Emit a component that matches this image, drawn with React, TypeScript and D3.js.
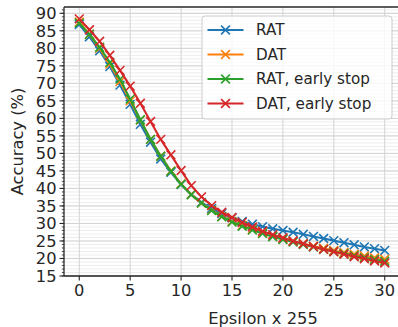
import React from "react";
import * as d3 from "d3";

const epsilons = d3.range(0, 31);
const ratValues = [86.8, 83.3, 79.3, 74.8, 69.5, 64.0, 58.3, 53.2, 48.4, 44.6, 41.1, 38.3, 36.0, 34.3, 32.8, 31.6, 30.6, 29.8, 29.1, 28.5, 28.0, 27.5, 26.9, 26.3, 25.7, 25.1, 24.5, 23.9, 23.3, 22.8, 22.3];
const datValues = [87.5, 84.0, 80.0, 75.5, 70.5, 65.0, 59.5, 54.0, 49.2, 45.0, 41.3, 38.3, 35.8, 33.8, 32.0, 30.6, 29.4, 28.3, 27.3, 26.4, 25.6, 24.9, 24.2, 23.5, 22.9, 22.3, 21.7, 21.2, 20.7, 20.2, 19.8];
const ratEarlyValues = [87.2, 84.0, 80.3, 76.0, 71.2, 65.5, 59.6, 54.0, 49.2, 44.9, 41.2, 38.2, 35.8, 33.7, 31.9, 30.4, 29.2, 28.1, 27.1, 26.2, 25.4, 24.7, 24.0, 23.3, 22.6, 22.0, 21.4, 20.8, 20.2, 19.7, 19.2];
const datEarlyValues = [88.4, 85.3, 82.0, 78.0, 73.7, 69.2, 64.3, 59.1, 54.0, 49.6, 45.1, 40.8, 37.6, 35.1, 33.2, 31.7, 30.3, 29.0, 27.8, 26.8, 25.9, 25.0, 24.2, 23.4, 22.6, 21.9, 21.2, 20.5, 19.9, 19.3, 18.7];

const seriesNames = ["RAT", "DAT", "RAT, early stop", "DAT, early stop"];
const seriesData = [ratValues, datValues, ratEarlyValues, datEarlyValues];
const seriesColors = ["#1f77b4", "#ff7f0e", "#2ca02c", "#d62728"];

const xTicks = [0, 5, 10, 15, 20, 25, 30];
const yTicks = d3.range(15, 91, 5);
const yMinor = d3.range(15, 92, 1);

const W = 398;
const H = 327;
const FONT = "DejaVu Sans, sans-serif";
const FS = 16.3;

export default function App() {
  const left = 64, right = 400, top = 7, bottom = 276;
  const x = d3.scaleLinear().domain([-1.5, 31.5]).range([left, right]);
  const y = d3.scaleLinear().domain([15, 91.8]).range([bottom, top]);
  const line = d3
    .line<number>()
    .x((_, i) => x(epsilons[i]))
    .y((d) => y(d));
  const m = 4.4;
  const marker = (cx: number, cy: number, color: string, key: string) => (
    <path
      key={key}
      d={`M${cx - m},${cy - m}L${cx + m},${cy + m}M${cx - m},${cy + m}L${cx + m},${cy - m}`}
      stroke={color}
      strokeWidth={1.6}
      fill="none"
    />
  );

  const legX = 202, legY = 16, legW = 190, legH = 103;
  const rowY = [30, 54.5, 79, 103.5];

  return (
    <svg
      width={W}
      height={H}
      style={{ position: "absolute", left: 0, top: 0, background: "#fff" }}
      fontFamily={FONT}
    >
      <rect x={0} y={0} width={W} height={H} fill="#fff" />
      {yMinor.map((v) => (
        <line key={"mg" + v} x1={left} x2={right} y1={y(v)} y2={y(v)} stroke="#e8e8e8" strokeWidth={0.8} />
      ))}
      {yTicks.map((v) => (
        <line key={"yg" + v} x1={left} x2={right} y1={y(v)} y2={y(v)} stroke="#d3d3d3" strokeWidth={1} />
      ))}
      {xTicks.map((v) => (
        <line key={"xg" + v} x1={x(v)} x2={x(v)} y1={top} y2={bottom} stroke="#d3d3d3" strokeWidth={1} />
      ))}
      {seriesData.map((s, k) => (
        <g key={"s" + k}>
          <path d={line(s) || ""} stroke={seriesColors[k]} strokeWidth={2.1} fill="none" />
          {s.map((v, i) => marker(x(epsilons[i]), y(v), seriesColors[k], `m${k}-${i}`))}
        </g>
      ))}
      <line x1={left} x2={left} y1={top} y2={bottom} stroke="#262626" strokeWidth={1.3} />
      <line x1={left} x2={right} y1={bottom} y2={bottom} stroke="#262626" strokeWidth={1.3} />
      <line x1={left} x2={right} y1={top} y2={top} stroke="#262626" strokeWidth={1.3} />
      {yMinor.map((v) => (
        <line key={"ymt" + v} x1={left - 2.2} x2={left} y1={y(v)} y2={y(v)} stroke="#262626" strokeWidth={0.8} />
      ))}
      {yTicks.map((v) => (
        <g key={"yt" + v}>
          <line x1={left - 4.5} x2={left} y1={y(v)} y2={y(v)} stroke="#262626" strokeWidth={1.1} />
          <text x={left - 7.5} y={y(v)} dy="0.36em" textAnchor="end" fontSize={FS} fill="#262626">
            {v}
          </text>
        </g>
      ))}
      {xTicks.map((v) => (
        <g key={"xt" + v}>
          <line x1={x(v)} x2={x(v)} y1={bottom} y2={bottom + 4.5} stroke="#262626" strokeWidth={1.1} />
          <text x={x(v)} y={bottom + 8} dy="0.76em" textAnchor="middle" fontSize={FS} fill="#262626">
            {v}
          </text>
        </g>
      ))}
      <text x={(left + 398) / 2 + 32} y={318} dy="0.36em" textAnchor="middle" fontSize={FS} fill="#262626">
        Epsilon x 255
      </text>
      <text
        transform={`translate(17,${(top + bottom) / 2}) rotate(-90)`}
        dy="0.36em"
        textAnchor="middle"
        fontSize={FS}
        fill="#262626"
      >
        Accuracy (%)
      </text>
      <rect x={legX} y={legY} width={legW} height={legH} rx={3} fill="#fff" fillOpacity={0.8} stroke="#cccccc" strokeWidth={1} />
      {seriesNames.map((n, k) => (
        <g key={"l" + k}>
          <line x1={207.5} x2={243.5} y1={rowY[k]} y2={rowY[k]} stroke={seriesColors[k]} strokeWidth={2.1} />
          {marker(225.5, rowY[k], seriesColors[k], "lm" + k)}
          <text x={256} y={rowY[k]} dy="0.36em" fontSize={15.2} fill="#262626">
            {n}
          </text>
        </g>
      ))}
    </svg>
  );
}
